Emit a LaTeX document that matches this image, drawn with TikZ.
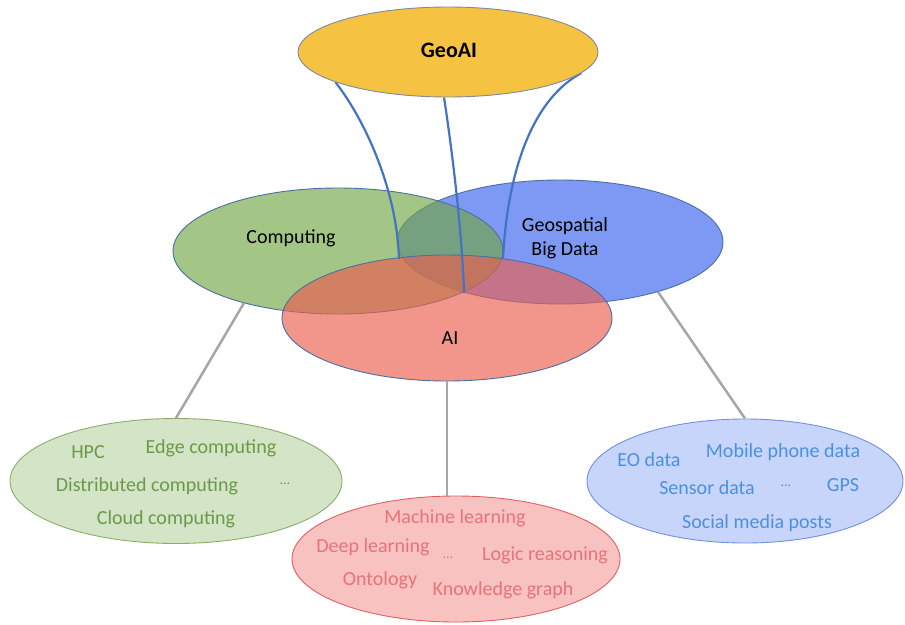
\documentclass[tikz,border=0pt]{standalone}
\usepackage{fontspec}
\setmainfont{Carlito}
\usetikzlibrary{shapes.geometric}
\definecolor{geoaifill}{HTML}{F5C242}
\definecolor{geoaiedge}{HTML}{7F8A9A}
\definecolor{vennedge}{HTML}{4A6FA5}
\definecolor{compbase}{RGB}{114,166,68}
\definecolor{geobase}{RGB}{70,110,240}
\definecolor{aibase}{RGB}{235,94,78}
\definecolor{curveblue}{HTML}{4472C4}
\definecolor{linkgray}{HTML}{A6A6A6}
\definecolor{gfill}{HTML}{D4E4C6}
\definecolor{gedge}{HTML}{8AAE6A}
\definecolor{gtext}{HTML}{6A9A48}
\definecolor{rfill}{HTML}{F8C2C0}
\definecolor{redge}{HTML}{E06060}
\definecolor{rtext}{HTML}{E8737A}
\definecolor{bfill}{HTML}{C7D5FA}
\definecolor{bedge}{HTML}{7090E0}
\definecolor{btext}{HTML}{4A90E2}
\begin{document}
\begin{tikzpicture}[x=1pt,y=-1pt,
  oval/.style={ellipse,inner sep=0pt,draw,line width=0.9pt},
  venn/.style={oval,draw=vennedge,text opacity=1},
  lbl/.style={font=\fontsize{20}{24}\selectfont,inner sep=0pt},
  curve/.style={draw=curveblue,line width=2.2pt},
  link/.style={draw=linkgray,line width=2.5pt}]
\useasboundingbox (0,0) rectangle (905,624);
% Venn ellipses
\node[venn,fill=geobase,fill opacity=0.7,minimum width=326pt,minimum height=124pt] (geo) at (560,242) {};
\node[venn,fill=compbase,fill opacity=0.65,minimum width=330pt,minimum height=126pt] (comp) at (338,251) {};
\node[venn,fill=aibase,fill opacity=0.65,minimum width=330pt,minimum height=126pt] (ai) at (447,318) {};
\node[lbl] (complbl) at (291,238) {Computing};
\node[lbl,align=center] (geolbl) at (565,238) {Geospatial\\Big Data};
\node[lbl] (ailbl) at (450,338) {AI};
% intersection points
\coordinate (p1) at (399,259);
\coordinate (p2) at (464,293);
\coordinate (p3) at (503,258);
% GeoAI (for anchors)
\path (448,52) node[oval,draw=none,minimum width=300pt,minimum height=90pt] (geoai) {};
\draw[curve] (geoai.195) .. controls (365,120) and (397,190) .. (p1);
\draw[curve] (geoai.265) .. controls (452,150) and (462,230) .. (p2);
\draw[curve] (geoai.351) .. controls (535,98) and (508,165) .. (p3);
\node[oval,draw=geoaiedge,fill=geoaifill,minimum width=300pt,minimum height=90pt] (geoaibox) at (448,52) {};
\node[lbl,font=\fontsize{22}{26}\selectfont\bfseries] (geoailbl) at (449,50) {GeoAI};
% bottom ellipses
\node[oval,draw=gedge,fill=gfill,minimum width=332pt,minimum height=125pt] (gbox) at (176,481) {};
\node[oval,draw=redge,fill=rfill,minimum width=328pt,minimum height=126pt] (rbox) at (456,559) {};
\node[oval,draw=bedge,fill=bfill,minimum width=316pt,minimum height=124pt] (bbox) at (745,481) {};
% links
\draw[link] (comp.209) -- (gbox.north);
\draw[link] (ai.south) -- (ai.south |- rbox.north);
\draw[link] (geo.333) -- (bbox.north);
% green items
\begin{scope}[every node/.style={lbl,text=gtext}]
\node (hpc) at (88,452) {HPC};
\node (edge) at (211,448) {Edge computing};
\node (dist) at (147,486) {Distributed computing};
\node (gdots) at (285,484) {\fontsize{14}{16}\selectfont\dots};
\node (cloud) at (166,519) {Cloud computing};
\end{scope}
% red items
\begin{scope}[every node/.style={lbl,text=rtext}]
\node (ml) at (455,518) {Machine learning};
\node (dl) at (373,547) {Deep learning};
\node (rdots) at (448,558) {\fontsize{14}{16}\selectfont\dots};
\node (logic) at (545,555) {Logic reasoning};
\node (onto) at (380,580) {Ontology};
\node (kg) at (503,590) {Knowledge graph};
\end{scope}
% blue items
\begin{scope}[every node/.style={lbl,text=btext}]
\node (eo) at (649,460) {EO data};
\node (mob) at (783,452) {Mobile phone data};
\node (sensor) at (707,488) {Sensor data};
\node (bdots) at (786,486) {\fontsize{14}{16}\selectfont\dots};
\node (gps) at (843,485) {GPS};
\node (social) at (757,523) {Social media posts};
\end{scope}
\end{tikzpicture}
\end{document}
